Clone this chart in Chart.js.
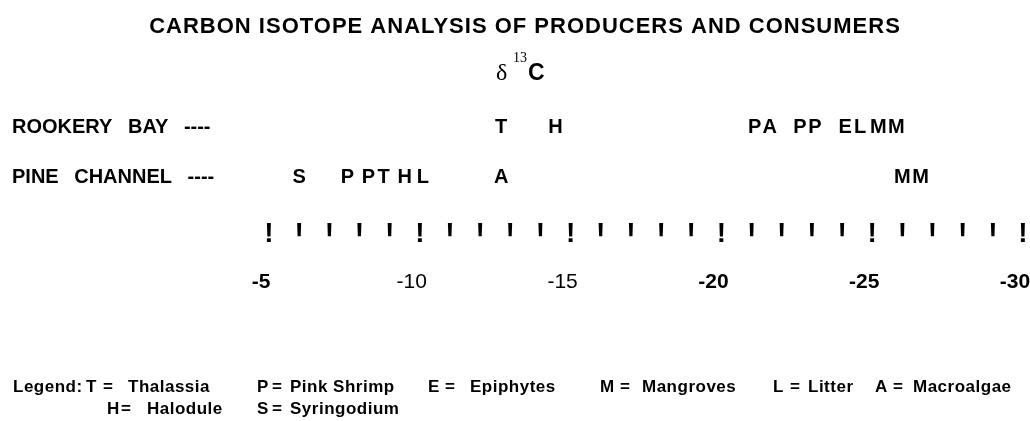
<!DOCTYPE html>
<html>
<head>
<meta charset="utf-8">
<script src="https://cdn.jsdelivr.net/npm/chart.js@4.4.1/dist/chart.umd.min.js"></script>
<style>
  html, body { margin: 0; padding: 0; background: #fff; }
  #wrap { width: 1030px; height: 421px; }
</style>
</head>
<body>
<div id="wrap"><canvas id="c" width="1030" height="421"></canvas></div>
<script>
// ---------- data ----------
const titleText = 'CARBON ISOTOPE ANALYSIS OF PRODUCERS AND CONSUMERS';
const sites = ['ROOKERY BAY ----', 'PINE CHANNEL ----'];

const rookeryLetters = ['T', 'H', 'P', 'A', 'P', 'P', 'E', 'L', 'M', 'M'];
const rookeryValues  = [-12.7, -14.5, -21.1, -21.6, -22.6, -23.1, -24.1, -24.6, -25.2, -25.8];

const pineLetters = ['S', 'P', 'P', 'T', 'H', 'L', 'A', 'M', 'M'];
const pineValues  = [-6.0, -7.6, -8.3, -8.8, -9.5, -10.1, -12.7, -26.0, -26.6];

const tickValues = [-5, -6, -7, -8, -9, -10, -11, -12, -13, -14, -15, -16, -17, -18, -19,
                    -20, -21, -22, -23, -24, -25, -26, -27, -28, -29, -30];
const labeledTicks = [-5, -10, -15, -20, -25, -30];
const boldTicks = [-5, -20, -25, -30];

const legendKeys  = ['T', 'P', 'E', 'M', 'L', 'A', 'H', 'S'];
const legendNames = ['Thalassia', 'Pink Shrimp', 'Epiphytes', 'Mangroves', 'Litter', 'Macroalgae', 'Halodule', 'Syringodium'];

// ---------- layout / style ----------
const FONT = "'Liberation Sans', Arial, Helvetica, sans-serif";
const SERIF = "'Liberation Serif', 'Times New Roman', serif";
const LEGEND_BASE = [392, 414];
const LEGEND_POS = [
  { row: 0, key: 86,  eq: 103, name: 128 },
  { row: 0, key: 257, eq: 272, name: 290 },
  { row: 0, key: 428, eq: 445, name: 470 },
  { row: 0, key: 600, eq: 620, name: 642 },
  { row: 0, key: 773, eq: 790, name: 808 },
  { row: 0, key: 875, eq: 893, name: 913 },
  { row: 1, key: 107, eq: 121, name: 147 },
  { row: 1, key: 257, eq: 272, name: 290 }
];
const MARK_BASE = 242;
const MARK_CLIP = 236.5;

const decor = {
  id: 'decor',
  beforeDraw(chart) {
    const ctx = chart.ctx;
    ctx.save();
    ctx.fillStyle = '#fff';
    ctx.fillRect(0, 0, chart.width, chart.height);
    ctx.restore();
    if ('wordSpacing' in ctx) ctx.wordSpacing = '10px';
  },
  afterDatasetsDraw(chart) {
    const ctx = chart.ctx;
    ctx.save();
    if ('wordSpacing' in ctx) ctx.wordSpacing = '0px';
    ctx.fillStyle = '#000';
    ctx.font = 'bold 20px ' + FONT;
    ctx.textAlign = 'center';
    ctx.textBaseline = 'middle';
    chart.data.datasets.forEach((ds, di) => {
      const meta = chart.getDatasetMeta(di);
      meta.data.forEach((el, i) => ctx.fillText(ds.letters[i], el.x, el.y));
    });
    ctx.restore();
  },
  afterDraw(chart) {
    const ctx = chart.ctx;
    const xs = chart.scales.x;
    ctx.save();
    if ('wordSpacing' in ctx) ctx.wordSpacing = '0px';
    ctx.fillStyle = '#000';

    // title
    if ('letterSpacing' in ctx) ctx.letterSpacing = '1px';
    ctx.font = 'bold 22px ' + FONT;
    ctx.textAlign = 'center';
    ctx.textBaseline = 'alphabetic';
    ctx.fillText(titleText, 525, 33);
    if ('letterSpacing' in ctx) ctx.letterSpacing = '0px';

    // delta 13 C
    ctx.textAlign = 'left';
    ctx.font = '24px ' + SERIF;
    ctx.fillText('\u03B4', 496, 80);
    ctx.font = '14px ' + SERIF;
    ctx.fillText('13', 513, 62);
    ctx.font = 'bold 23px ' + FONT;
    ctx.fillText('C', 528, 80);

    // tick marks along the axis
    ctx.font = 'bold 28px ' + FONT;
    ctx.textAlign = 'center';
    tickValues.forEach(v => {
      const px = xs.getPixelForValue(v);
      if (labeledTicks.includes(v)) {
        ctx.fillText('!', px, MARK_BASE);
      } else {
        ctx.save();
        ctx.beginPath();
        ctx.rect(px - 10, 0, 20, MARK_CLIP);
        ctx.clip();
        ctx.fillText('!', px, MARK_BASE);
        ctx.restore();
      }
    });

    // legend
    ctx.textAlign = 'left';
    ctx.font = 'bold 17px ' + FONT;
    if ('letterSpacing' in ctx) ctx.letterSpacing = '0.5px';
    ctx.fillText('Legend:', 13, LEGEND_BASE[0]);
    legendKeys.forEach((k, i) => {
      const p = LEGEND_POS[i];
      const y = LEGEND_BASE[p.row];
      ctx.fillText(k, p.key, y);
      ctx.fillText('=', p.eq, y);
      ctx.fillText(legendNames[i], p.name, y);
    });
    ctx.restore();
  }
};

const toPoints = (vals, site) => vals.map(v => ({ x: v, y: site }));

new Chart(document.getElementById('c'), {
  type: 'scatter',
  data: {
    datasets: [
      { label: 'Rookery Bay', data: toPoints(rookeryValues, sites[0]), letters: rookeryLetters,
        pointRadius: 0, pointHoverRadius: 0, clip: false },
      { label: 'Pine Channel', data: toPoints(pineValues, sites[1]), letters: pineLetters,
        pointRadius: 0, pointHoverRadius: 0, clip: false }
    ]
  },
  options: {
    responsive: false,
    animation: false,
    devicePixelRatio: 1,
    events: [],
    layout: { padding: { left: 12, right: 7, top: 127, bottom: 0 } },
    plugins: {
      legend: { display: false },
      title: { display: false },
      tooltip: { enabled: false }
    },
    scales: {
      x: {
        type: 'linear',
        reverse: true,
        min: -30,
        max: -5,
        afterBuildTicks: (s) => { s.ticks = tickValues.map(v => ({ value: v })); },
        afterFit: (s) => { s.height = 243.5; s.paddingLeft = 0; s.paddingRight = 0; },
        grid: { display: false, drawTicks: false },
        border: { display: false },
        ticks: {
          autoSkip: false,
          maxRotation: 0,
          minRotation: 0,
          padding: 92,
          labelOffset: -8,
          color: '#000',
          font: (c) => ({ family: FONT, size: 21,
            weight: (c.tick && boldTicks.includes(c.tick.value)) ? 'bold' : 'normal' }),
          callback: (v) => labeledTicks.includes(v) ? String(v) : ''
        }
      },
      y: {
        type: 'category',
        labels: sites,
        offset: false,
        afterFit: (s) => { s.width = 257; },
        grid: { display: false, drawTicks: false },
        border: { display: false },
        ticks: {
          autoSkip: false,
          crossAlign: 'far',
          padding: 0,
          color: '#000',
          font: { family: FONT, size: 20, weight: 'bold' }
        }
      }
    }
  },
  plugins: [decor]
});
</script>
</body>
</html>
